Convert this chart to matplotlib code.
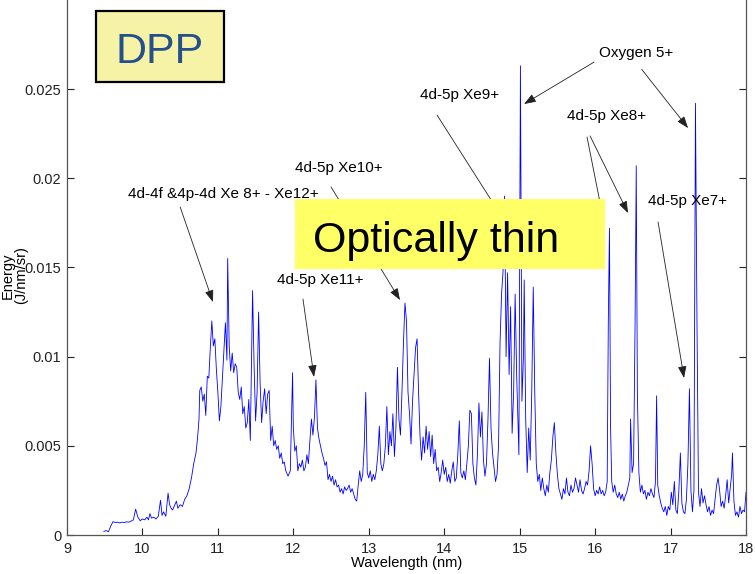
import numpy as np
import matplotlib.pyplot as plt
from matplotlib.patches import Rectangle, ArrowStyle

plt.rcParams['font.family'] = ['Liberation Sans', 'DejaVu Sans']

# spectrum: wavelength (nm) and energy (1e-3 J/nm/sr)
wavelength = [
    9.49, 9.52, 9.55, 9.58, 9.61, 9.64, 9.67, 9.70, 9.73, 9.76,
    9.79, 9.82, 9.85, 9.88, 9.91, 9.94, 9.97, 10.00, 10.03, 10.06,
    10.08, 10.10, 10.12, 10.15, 10.18, 10.21, 10.24, 10.26, 10.28, 10.31,
    10.34, 10.36, 10.38, 10.40, 10.42, 10.45, 10.47, 10.50, 10.53, 10.56,
    10.59, 10.62, 10.65, 10.68, 10.71, 10.73, 10.75, 10.76, 10.78, 10.80,
    10.82, 10.84, 10.86, 10.88, 10.90, 10.92, 10.94, 10.96, 10.98, 11.00,
    11.02, 11.04, 11.06, 11.08, 11.10, 11.12, 11.13, 11.15, 11.17, 11.19,
    11.21, 11.23, 11.25, 11.27, 11.29, 11.31, 11.33, 11.35, 11.37, 11.39,
    11.41, 11.43, 11.46, 11.48, 11.50, 11.52, 11.54, 11.56, 11.58, 11.60,
    11.62, 11.64, 11.66, 11.68, 11.70, 11.72, 11.74, 11.76, 11.78, 11.80,
    11.82, 11.84, 11.86, 11.88, 11.90, 11.93, 11.96, 11.99, 12.00, 12.02,
    12.04, 12.06, 12.08, 12.10, 12.12, 12.14, 12.16, 12.18, 12.20, 12.22,
    12.24, 12.26, 12.28, 12.30, 12.32, 12.34, 12.36, 12.38, 12.40, 12.42,
    12.44, 12.46, 12.48, 12.50, 12.52, 12.54, 12.56, 12.58, 12.60, 12.62,
    12.64, 12.66, 12.68, 12.70, 12.72, 12.74, 12.76, 12.78, 12.80, 12.82,
    12.84, 12.86, 12.88, 12.90, 12.92, 12.94, 12.96, 12.98, 13.00, 13.02,
    13.04, 13.06, 13.08, 13.10, 13.12, 13.14, 13.16, 13.18, 13.20, 13.22,
    13.24, 13.26, 13.28, 13.30, 13.32, 13.34, 13.36, 13.38, 13.40, 13.42,
    13.44, 13.46, 13.48, 13.50, 13.52, 13.54, 13.56, 13.58, 13.60, 13.62,
    13.64, 13.66, 13.68, 13.70, 13.72, 13.74, 13.76, 13.78, 13.80, 13.82,
    13.84, 13.86, 13.88, 13.90, 13.92, 13.94, 13.96, 13.98, 14.00, 14.02,
    14.04, 14.06, 14.08, 14.10, 14.12, 14.14, 14.16, 14.18, 14.20, 14.22,
    14.24, 14.26, 14.28, 14.30, 14.32, 14.34, 14.36, 14.38, 14.40, 14.42,
    14.44, 14.46, 14.48, 14.50, 14.52, 14.54, 14.56, 14.58, 14.60, 14.62,
    14.64, 14.66, 14.68, 14.70, 14.72, 14.74, 14.76, 14.78, 14.80, 14.82,
    14.84, 14.86, 14.88, 14.90, 14.92, 14.94, 14.96, 14.98, 14.99, 15.01,
    15.03, 15.05, 15.06, 15.08, 15.10, 15.12, 15.14, 15.16, 15.18, 15.20,
    15.22, 15.24, 15.26, 15.28, 15.30, 15.32, 15.34, 15.36, 15.38, 15.40,
    15.42, 15.44, 15.46, 15.48, 15.50, 15.52, 15.54, 15.56, 15.58, 15.60,
    15.62, 15.64, 15.66, 15.68, 15.70, 15.72, 15.74, 15.76, 15.78, 15.80,
    15.82, 15.84, 15.86, 15.88, 15.90, 15.92, 15.94, 15.96, 15.98, 16.00,
    16.02, 16.04, 16.06, 16.08, 16.10, 16.12, 16.14, 16.16, 16.175, 16.19,
    16.205, 16.22, 16.24, 16.26, 16.28, 16.30, 16.32, 16.34, 16.36, 16.38,
    16.40, 16.42, 16.44, 16.46, 16.47, 16.49, 16.51, 16.53, 16.545, 16.56,
    16.58, 16.60, 16.62, 16.64, 16.66, 16.68, 16.70, 16.72, 16.74, 16.76,
    16.78, 16.80, 16.815, 16.83, 16.85, 16.87, 16.89, 16.91, 16.93, 16.95,
    16.97, 16.99, 17.01, 17.03, 17.05, 17.07, 17.09, 17.11, 17.13, 17.15,
    17.17, 17.19, 17.21, 17.23, 17.25, 17.27, 17.29, 17.31, 17.32, 17.33,
    17.35, 17.37, 17.39, 17.41, 17.43, 17.45, 17.47, 17.49, 17.51, 17.53,
    17.55, 17.57, 17.59, 17.61, 17.63, 17.65, 17.67, 17.69, 17.71, 17.73,
    17.75, 17.77, 17.79, 17.81, 17.82, 17.84, 17.86, 17.88, 17.90, 17.92,
    17.94, 17.96, 17.98, 18.00,
]
energy_milli = [
    0.20, 0.25, 0.18, 0.50, 0.75, 0.70, 0.72, 0.68, 0.72, 0.70,
    0.74, 0.72, 0.78, 0.85, 1.45, 1.00, 0.80, 0.90, 0.85, 1.00,
    0.85, 1.20, 0.95, 1.00, 0.90, 1.05, 1.95, 1.10, 1.30, 1.05,
    2.35, 1.70, 1.50, 1.40, 1.60, 1.90, 1.50, 1.70, 1.60, 2.00,
    2.20, 2.60, 3.20, 4.00, 4.60, 5.40, 6.50, 8.10, 8.30, 7.50,
    7.90, 6.70, 8.90, 8.80, 10.50, 12.00, 10.60, 11.00, 9.30, 8.00,
    6.40, 7.20, 8.80, 10.50, 11.90, 9.80, 15.50, 10.60, 9.20, 10.20,
    9.10, 9.60, 9.40, 8.00, 7.60, 8.30, 6.80, 7.20, 6.00, 6.30,
    7.60, 5.30, 13.70, 9.50, 6.40, 8.00, 12.50, 8.50, 6.30, 7.50,
    8.20, 6.80, 7.90, 8.10, 5.30, 6.10, 5.00, 5.30, 4.80, 5.00,
    4.30, 4.60, 4.00, 4.10, 3.60, 3.30, 3.60, 9.10, 6.00, 4.70,
    5.00, 3.60, 4.00, 3.80, 4.20, 3.60, 3.80, 4.50, 4.00, 5.30,
    6.50, 5.60, 6.60, 8.70, 6.00, 5.40, 5.00, 4.60, 4.30, 3.90,
    4.10, 3.10, 3.40, 3.00, 3.30, 2.80, 3.10, 2.70, 2.80, 2.40,
    2.60, 2.30, 2.70, 2.50, 2.60, 2.80, 2.40, 2.60, 2.30, 2.00,
    1.90, 2.80, 3.60, 3.00, 3.40, 5.00, 8.00, 3.50, 3.20, 3.60,
    3.00, 3.40, 3.10, 3.60, 4.50, 6.10, 4.00, 3.60, 4.00, 5.00,
    7.20, 4.50, 5.80, 5.00, 6.80, 4.40, 6.00, 9.40, 6.50, 5.60,
    8.00, 10.80, 13.00, 12.00, 8.00, 6.80, 5.10, 7.50, 9.00, 10.50,
    11.00, 8.00, 5.50, 4.20, 5.50, 4.60, 6.10, 4.80, 5.80, 4.40,
    5.60, 4.00, 4.80, 3.60, 3.80, 3.00, 3.50, 4.20, 3.40, 3.80,
    3.00, 3.40, 2.90, 3.60, 4.10, 3.00, 3.20, 4.50, 6.40, 3.50,
    3.20, 3.60, 3.10, 4.00, 5.00, 7.00, 6.80, 4.00, 3.20, 2.80,
    4.50, 7.40, 5.50, 6.90, 4.20, 3.30, 4.00, 6.50, 9.90, 6.00,
    4.60, 3.80, 3.00, 3.40, 5.00, 10.80, 13.50, 14.80, 19.00, 10.00,
    14.70, 9.00, 12.80, 5.70, 8.00, 13.50, 9.00, 6.00, 4.50, 26.30,
    7.50, 10.00, 14.30, 6.50, 3.50, 6.00, 4.20, 8.00, 13.90, 8.00,
    4.00, 3.00, 3.40, 2.50, 3.20, 2.60, 2.20, 2.80, 2.40, 3.50,
    4.20, 5.50, 6.30, 4.60, 3.40, 2.60, 2.30, 2.00, 2.60, 2.30,
    3.20, 2.40, 2.20, 2.80, 2.40, 2.60, 3.20, 2.80, 2.40, 3.10,
    2.50, 2.30, 2.60, 3.00, 2.80, 3.60, 5.00, 4.00, 2.60, 2.20,
    2.50, 2.30, 2.70, 2.30, 2.50, 2.20, 2.40, 3.00, 12.00, 17.20,
    6.00, 3.00, 2.40, 2.80, 2.30, 2.10, 2.40, 2.00, 2.30, 1.90,
    2.20, 2.40, 2.80, 3.20, 6.50, 3.50, 4.00, 12.00, 20.70, 8.00,
    3.50, 2.40, 2.80, 2.30, 2.50, 2.00, 2.40, 2.20, 2.60, 2.30,
    2.10, 3.00, 7.80, 2.80, 2.20, 1.80, 1.50, 1.30, 1.60, 1.10,
    1.60, 1.40, 2.40, 1.70, 3.00, 1.40, 1.20, 2.50, 4.60, 1.80,
    1.30, 1.20, 2.00, 4.00, 8.20, 2.50, 1.30, 2.50, 14.00, 24.20,
    12.00, 2.40, 1.60, 2.60, 1.80, 2.20, 1.70, 1.30, 1.60, 1.10,
    1.40, 1.20, 2.00, 2.80, 3.20, 2.50, 1.60, 1.90, 1.50, 2.20,
    3.10, 1.80, 2.60, 3.40, 4.60, 1.90, 1.10, 1.30, 1.00, 1.60,
    1.20, 1.40, 1.30, 2.40,
]

xticks = [9, 10, 11, 12, 13, 14, 15, 16, 17, 18]
yticks = [0, 0.005, 0.01, 0.015, 0.02, 0.025]
ytick_labels = ['0', '0.005', '0.01', '0.015', '0.02', '0.025']

# line labels: (text, text centre, arrow tail, arrow head, arrowhead shown)
notes = [
    ('4d-4f &4p-4d Xe 8+ - Xe12+', (11.07, 0.01911), (10.50, 0.01839), (10.935, 0.01306), True),
    ('4d-5p Xe10+', (12.60, 0.0206), (12.50, 0.01951), (13.414, 0.01317), True),
    ('4d-5p Xe11+', (12.36, 0.0143), (12.128, 0.01323), (12.274, 0.00886), True),
    ('4d-5p Xe9+', (14.20, 0.02466), (13.905, 0.02354), (14.673, 0.01844), False),
    ('Oxygen 5+', (16.55, 0.0270), (15.986, 0.02651), (15.058, 0.02416), True),
    (None, None, (16.618, 0.02610), (17.232, 0.02281), True),
    ('4d-5p Xe8+', (16.15, 0.02351), (15.893, 0.02231), (16.090, 0.01810), False),
    (None, None, (15.933, 0.02237), (16.436, 0.01805), True),
    ('4d-5p Xe7+', (17.23, 0.01872), (16.834, 0.01755), (17.179, 0.0088), True),
]

energy = np.array(energy_milli) * 1e-3

fig = plt.figure(figsize=(7.55, 5.74), dpi=100)
ax = fig.add_axes([0.0887, 0.0679, 0.8994, 0.9324])

ax.plot(wavelength, energy, color='#0000ff', linewidth=0.6)

ax.set_xlim(9, 18)
ax.set_ylim(0, 0.03)
ax.set_xticks(xticks)
ax.set_yticks(yticks)
ax.set_yticklabels(ytick_labels)
ax.tick_params(direction='in', length=5, width=0.8, labelsize=10.5,
               right=True, top=False, colors='#222222')
ax.tick_params(axis='x', pad=5)
ax.tick_params(axis='y', pad=4)
for side in ['left', 'bottom', 'right']:
    ax.spines[side].set_color('#555555')
    ax.spines[side].set_linewidth(0.9)
ax.spines['top'].set_visible(False)

ax.set_xlabel('Wavelength (nm)', fontsize=10.5, labelpad=0)
ax.set_ylabel('Energy\n(J/nm/sr)', fontsize=10.5, linespacing=0.95)
ax.yaxis.set_label_coords(-0.057, 0.485)

head = ArrowStyle('-|>', head_length=0.6, head_width=0.22)
for text, pos, tail, tip, show_head in notes:
    if text is not None:
        ax.text(pos[0], pos[1], text, fontsize=11, ha='center', va='center')
    ax.annotate('', xy=tip, xytext=tail,
                arrowprops=dict(arrowstyle=head if show_head else '-',
                                color='#222222', lw=0.6, mutation_scale=12,
                                shrinkA=0, shrinkB=0))

# pasted-on yellow boxes
fig.patches.append(Rectangle((0.3907, 0.5314), 0.4106, 0.1220, transform=fig.transFigure,
                             facecolor='#ffff66', edgecolor='none', zorder=5))
fig.text(0.4146, 0.561, 'Optically thin', fontsize=31, color='black',
         ha='left', va='baseline', zorder=6)

fig.patches.append(Rectangle((0.1272, 0.8571), 0.1695, 0.1237, transform=fig.transFigure,
                             facecolor='#f6f3a6', edgecolor='black', linewidth=1.6, zorder=5))
fig.text(0.2109, 0.8897, 'DPP', fontsize=31, color='#24508c',
         ha='center', va='baseline', zorder=6)

fig.savefig('out.png', dpi=100)
